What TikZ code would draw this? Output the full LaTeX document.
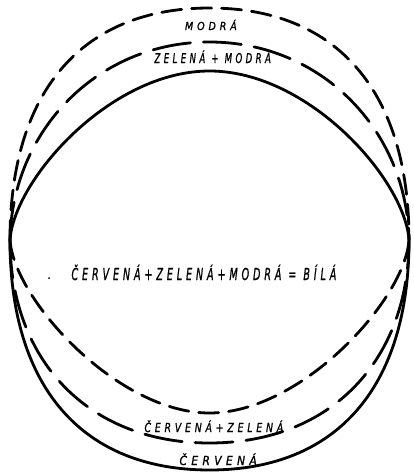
\documentclass[tikz,border=0pt]{standalone}
\usepackage{fontspec}
\usepackage{graphicx}
\setmainfont{DejaVu Sans}
\newfontfamily\hand[LetterSpace=40,FakeBold=1.2]{DejaVu Sans}
\newcommand{\lettering}[3]{\resizebox{#1pt}{\height}{\hand\itshape\fontsize{#2}{#2}\selectfont #3\kern-0.4em}}
\begin{document}
\begin{tikzpicture}[x=1pt,y=-1pt,
  arc/.style={line width=2.8pt,line cap=round},
  shortdash/.style={arc,dash pattern=on 20pt off 10pt},
  longdash/.style={arc,dash pattern=on 38pt off 13pt},
  lbl/.style={anchor=base,inner sep=0pt}]
\useasboundingbox (0,0) rectangle (414,474);
\coordinate (L) at (10,240);
\coordinate (R) at (409,240);
% top arcs
\coordinate (t1) at (209.5,8);
\coordinate (t2) at (209.5,42);
\coordinate (t3) at (209.5,71);
\draw[shortdash] (L) .. controls (10,91.5) and (81.8,8) .. (t1) .. controls (337.2,8) and (409,91.5) .. (R);
\draw[longdash] (L) .. controls (12,130) and (98,42) .. (t2) .. controls (321,42) and (407,130) .. (R);
\draw[arc] (L) .. controls (14,180) and (110,71) .. (t3) .. controls (309,71) and (405,180) .. (R);
% bottom arcs
\coordinate (b1) at (209.5,413);
\coordinate (b2) at (209.5,443);
\coordinate (b3) at (209.5,470);
\draw[shortdash] (L) .. controls (14,300) and (118,413) .. (b1) .. controls (301,413) and (405,300) .. (R);
\draw[longdash] (L) .. controls (10,360) and (88,443) .. (b2) .. controls (331,443) and (409,360) .. (R);
\draw[arc] (L) .. controls (10,387) and (82,470) .. (b3) .. controls (337,470) and (409,387) .. (R);
% labels
\node[lbl] (modra) at (209,30) {\lettering{48}{11}{MODRÁ}};
\node[lbl] (zm) at (211,63) {\lettering{113}{13.5}{ZELENÁ + MODRÁ}};
\node[lbl] (main) at (202,280) {\lettering{261}{16.5}{ČERVENÁ+ZELENÁ+MODRÁ = BÍLÁ}};
\node[lbl] (cz) at (212,432) {\lettering{135}{12.5}{ČERVENÁ+ZELENÁ}};
\node[lbl] (c) at (216,465) {\lettering{73}{12.5}{ČERVENÁ}};
\fill (49,278) circle (1pt);
\end{tikzpicture}
\end{document}
